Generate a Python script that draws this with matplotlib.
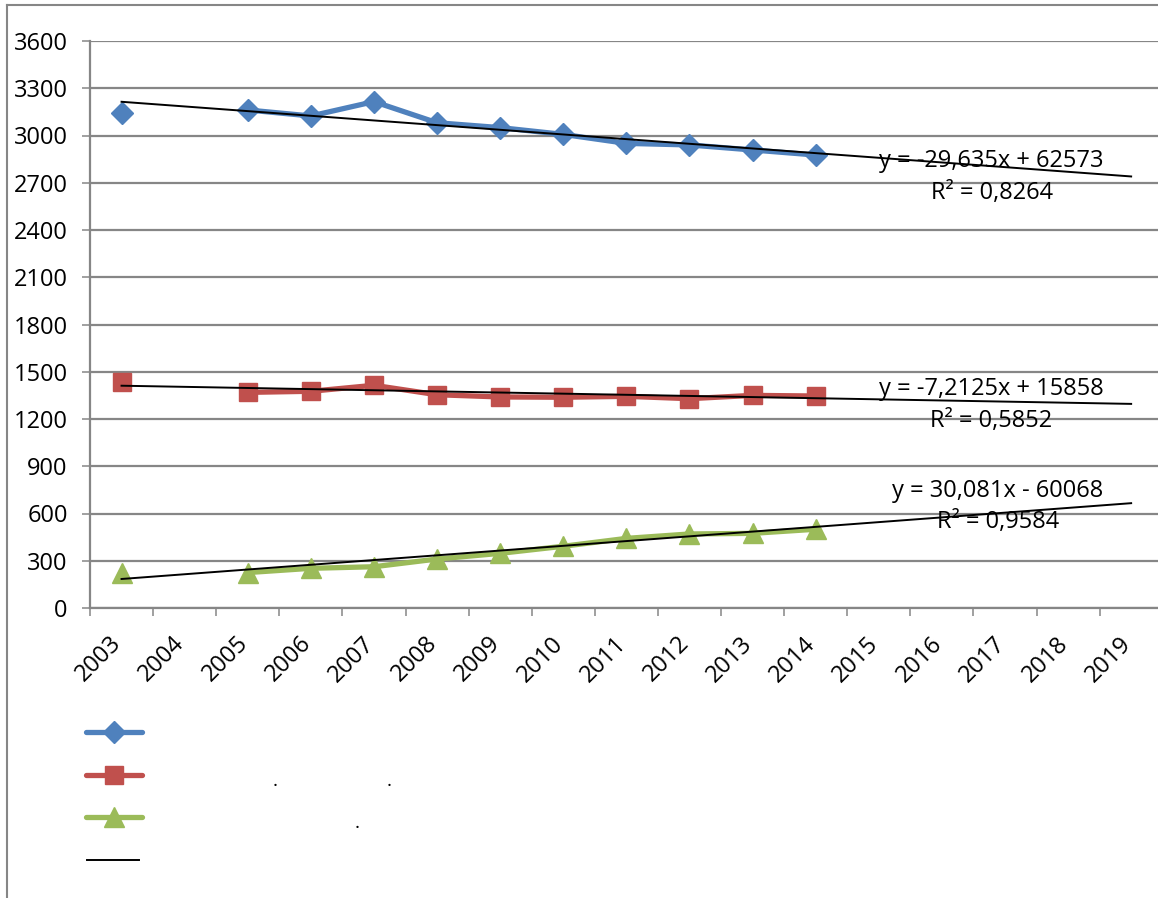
import numpy as np
import matplotlib; matplotlib.use("Agg")
import matplotlib.pyplot as plt
from matplotlib.lines import Line2D
from matplotlib.transforms import ScaledTranslation

plt.rcParams["font.family"] = ["Open Sans", "DejaVu Sans"]

W, H = 1158, 898
years = list(range(2003, 2020))
nan = np.nan
# values (2004 has no data)
blue  = [3143, nan, 3162, 3124, 3215, 3081, 3050, 3007, 2950, 2940, 2908, 2876, nan, nan, nan, nan, nan]
red   = [1433, nan, 1369, 1376, 1414, 1354, 1340, 1338, 1344, 1329, 1350, 1346, nan, nan, nan, nan, nan]
green = [220,  nan, 225,  252,  262,  311,  347,  392,  442,  470,  474,  500,  nan, nan, nan, nan, nan]
# linear trends as printed on the chart (x = year)
trend_slope     = [-29.635, -7.2125, 30.081]
trend_intercept = [62573, 15858, -60068]
eq_text = ["y = -29,635x + 62573", "y = -7,2125x + 15858", "y = 30,081x - 60068"]
r2_text = ["R² = 0,8264", "R² = 0,5852", "R² = 0,9584"]
yticks = list(range(0, 3601, 300))

GRAY = "#868686"
colors = ["#4F81BD", "#C0504D", "#9BBB59"]
markers = ["D", "s", "^"]
msizes = [11, 13, 14.5]

def fx(x): return x / W
def fy(y): return 1 - y / H

fig = plt.figure(figsize=(W / 100, H / 100), dpi=100)
step = 63.1
ax = fig.add_axes([fx(90), fy(608), len(years) * step / W, 567 / H])
ax.set_xlim(-0.5, len(years) - 0.5)
ax.set_ylim(0, 3600)

x = np.arange(len(years))
for vals, c, m, ms in zip([blue, red, green], colors, markers, msizes):
    ax.plot(x, vals, color=c, lw=3.8, marker=m, ms=ms, mec=c, zorder=3)
yrs = np.array(years, float)
for k in range(3):
    ax.plot(x, trend_slope[k] * yrs + trend_intercept[k], color="black", lw=1.4, zorder=4)

# grid + axes styling
ax.set_yticks(yticks)
ax.yaxis.grid(True, color=GRAY, lw=1.6)
ax.set_axisbelow(True)
for s in ["top", "right"]:
    ax.spines[s].set_visible(False)
ax.spines["left"].set_color(GRAY); ax.spines["left"].set_lw(1.6)
ax.spines["bottom"].set_color(GRAY); ax.spines["bottom"].set_lw(1.6)
ax.tick_params(axis="y", direction="out", length=6, width=1.1, color=GRAY, pad=10, labelsize=17)
ax.set_xticks(np.arange(len(years) + 1) - 0.5)
ax.set_xticklabels([])
ax.set_xticks(x, minor=True)
ax.set_xticklabels([str(y) for y in years], minor=True, rotation=45, ha="right", va="top", fontsize=17)
ax.tick_params(axis="x", which="major", direction="out", length=6, width=1.1, color=GRAY)
ax.tick_params(axis="x", which="minor", length=0, pad=17)
off = ScaledTranslation(5 / 100, 0, fig.dpi_scale_trans)
for lab in ax.get_xticklabels(minor=True):
    lab.set_transform(lab.get_transform() + off)

# trend equations
eq_pos = [(991, 161, 992, 193), (991, 389, 991, 421), (998, 491, 998, 522)]
for k, (x1, y1, x2, y2) in enumerate(eq_pos):
    fig.text(fx(x1), fy(y1), eq_text[k], ha="center", va="center", fontsize=17)
    fig.text(fx(x2), fy(y2), r2_text[k], ha="center", va="center", fontsize=17)

# legend (labels lost in the source, only dots remain)
for yy, c, m, ms in zip([732, 775, 817], colors, markers, msizes):
    fig.add_artist(Line2D([fx(86), fx(114), fx(142)], [fy(yy)] * 3, color=c, lw=3.8,
                          marker=m, ms=ms, mec=c, markevery=[1], solid_capstyle="round"))
fig.add_artist(Line2D([fx(87), fx(139)], [fy(860)] * 2, color="black", lw=1.4))
for dx, dy in [(275, 786), (389, 786), (357, 828)]:
    fig.text(fx(dx), fy(dy), ".", ha="center", va="baseline", fontsize=14)

# outer frame (left and top visible)
fig.add_artist(Line2D([fx(7.5), fx(7.5)], [fy(5), 0], color=GRAY, lw=1.5))
fig.add_artist(Line2D([fx(7.5), 1], [fy(5), fy(5)], color=GRAY, lw=1.5))

fig.savefig("out.png", dpi=100)
